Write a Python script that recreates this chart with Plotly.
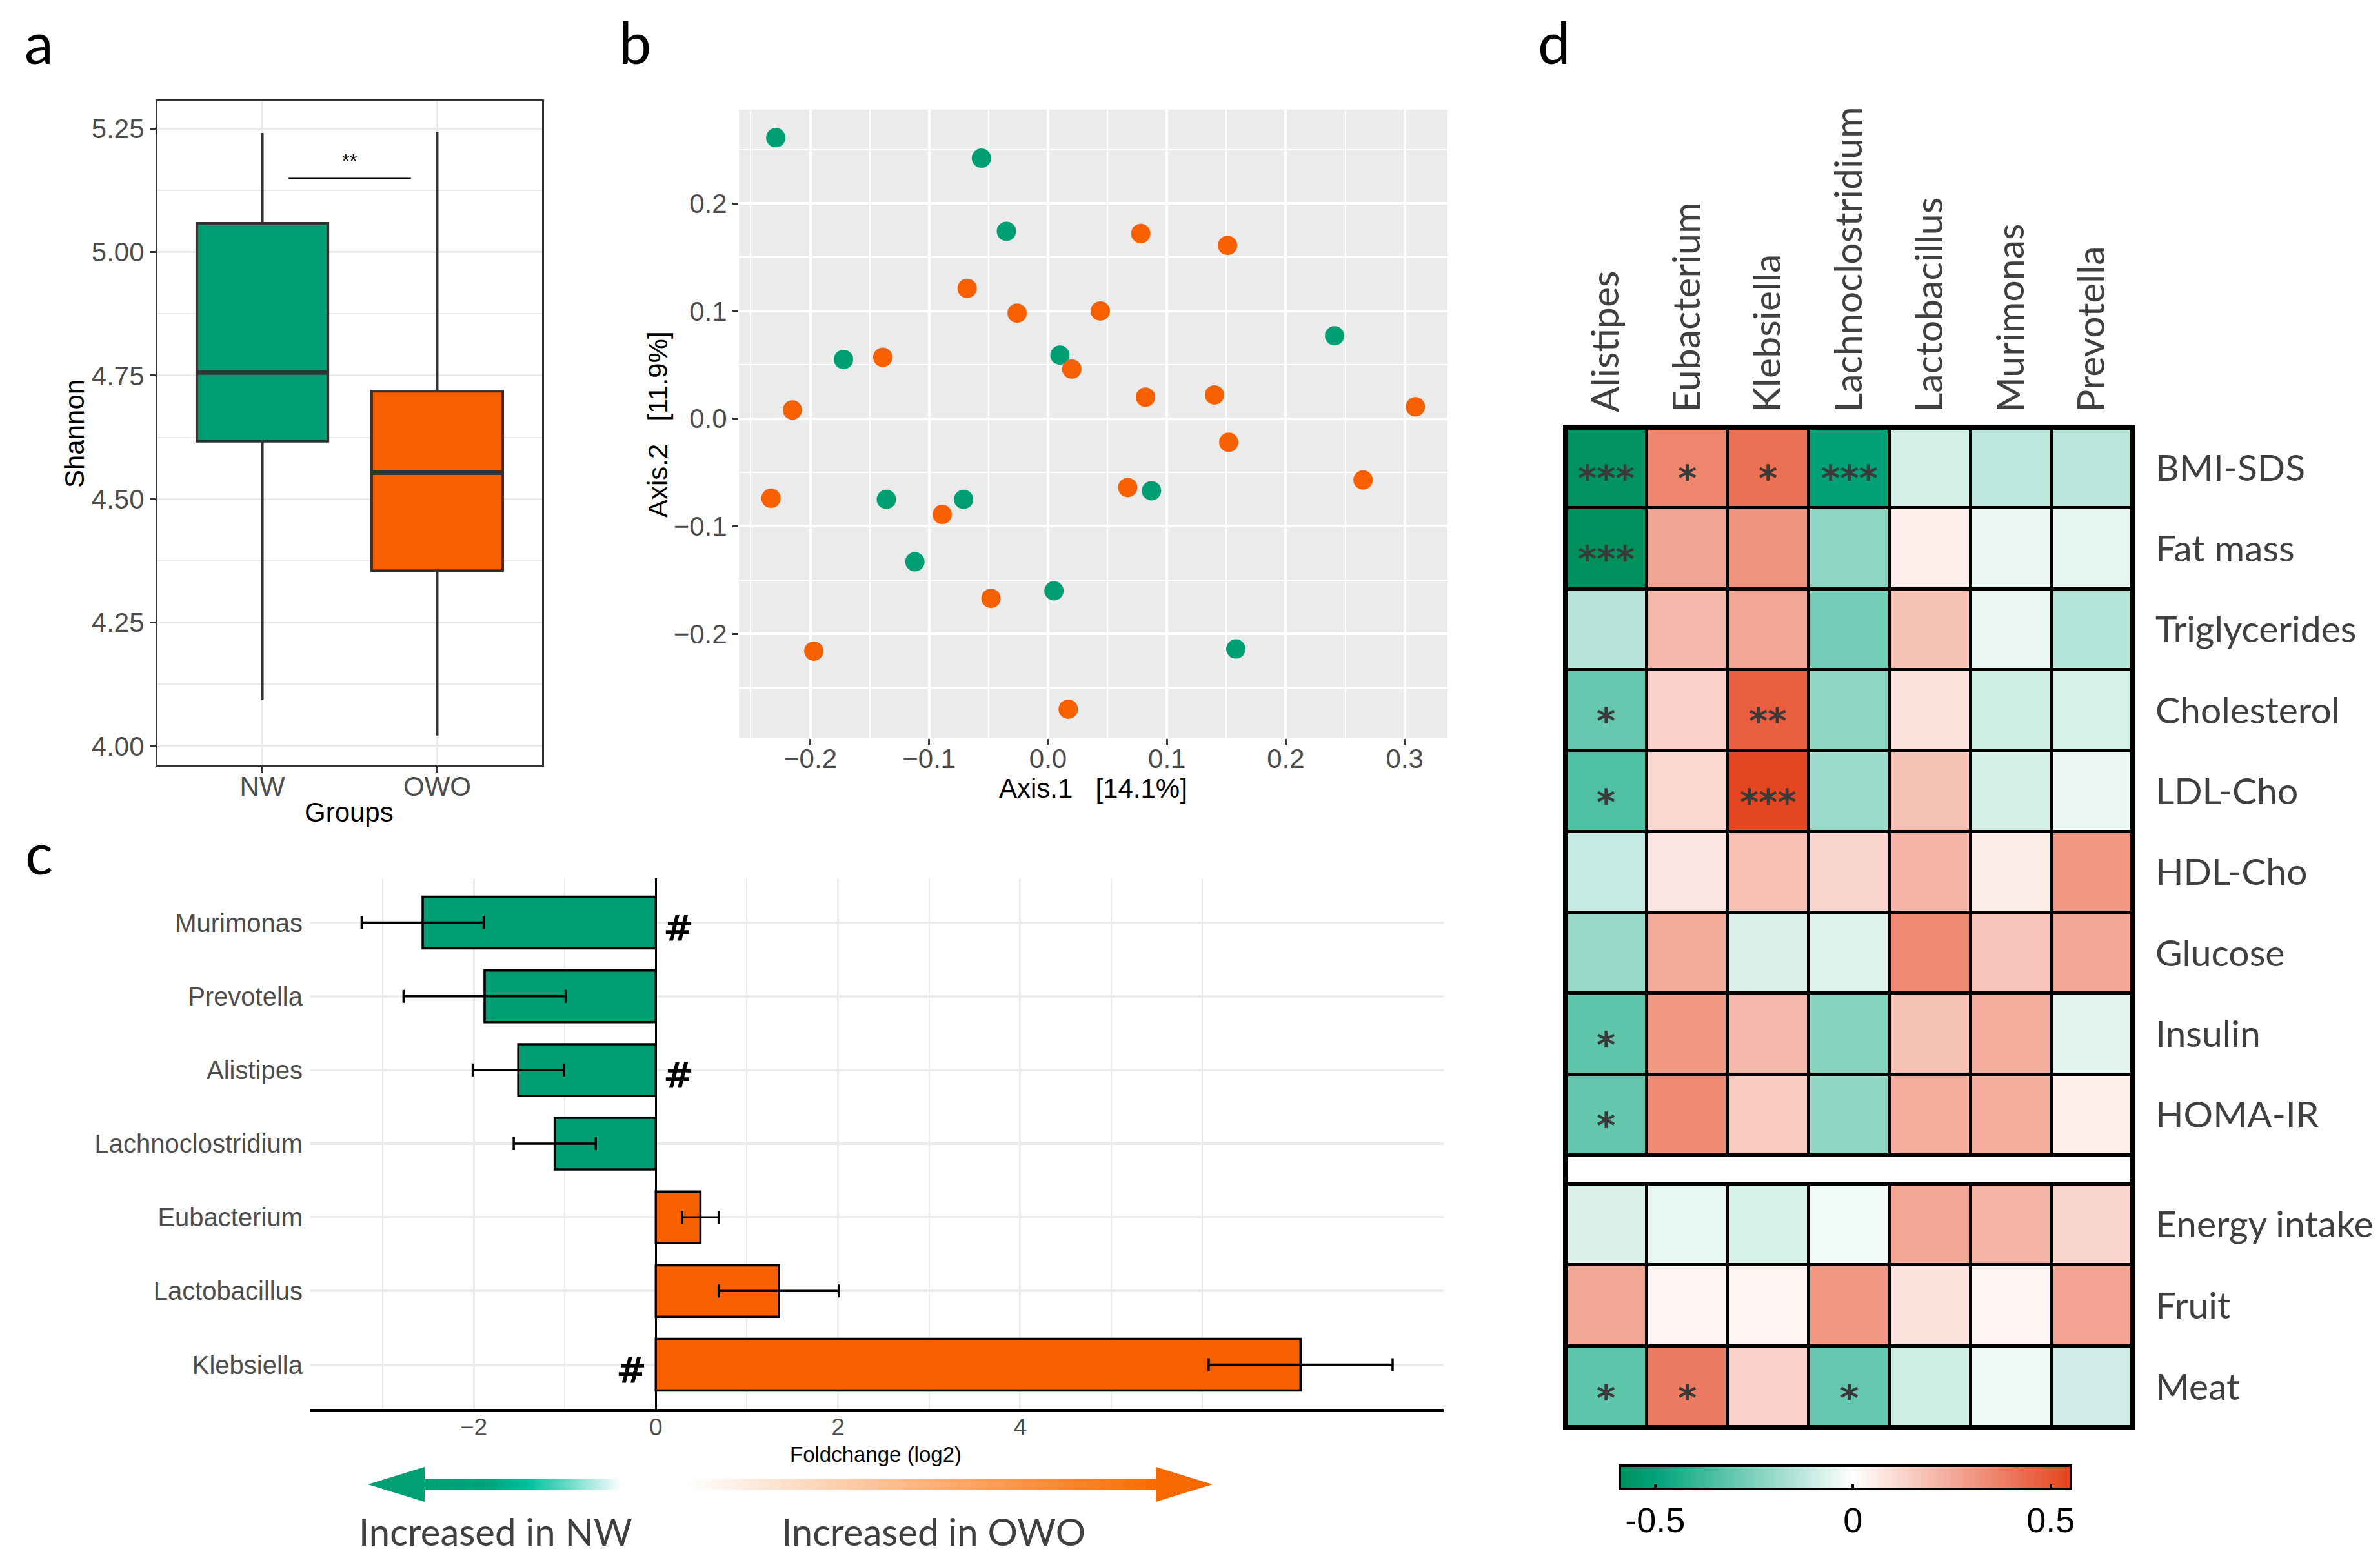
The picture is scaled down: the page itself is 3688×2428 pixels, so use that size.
import numpy as np
import plotly.graph_objects as go

W, H = 3688, 2428


def fx(p):
    return p / W


def fy(p):
    return 1 - p / H


GREEN = '#009E73'
ORANGE = '#F76000'
GREY_TXT = '#4d4d4d'
SANS = 'Liberation Sans'
CAL = 'Lato'

# ---- panel a : Shannon diversity (box stats) ----
groups = ['NW', 'OWO']
shannon_low = [4.094, 4.021]
shannon_q1 = [4.617, 4.355]
shannon_med = [4.756, 4.553]
shannon_q3 = [5.058, 4.718]
shannon_high = [5.241, 5.243]

# ---- panel b : PCoA ----
nw_axis1 = [-0.229, -0.056, -0.035, -0.172, 0.010, 0.241, -0.136, -0.071, 0.087, -0.112, 0.005, 0.158]
nw_axis2 = [0.261, 0.242, 0.174, 0.055, 0.059, 0.077, -0.075, -0.075, -0.067, -0.133, -0.160, -0.214]
owo_axis1 = [0.078, 0.151, -0.068, -0.026, 0.044, -0.139, 0.020, -0.215, 0.082, 0.140, 0.309,
             0.152, -0.233, -0.089, 0.067, 0.265, -0.048, -0.197, 0.017]
owo_axis2 = [0.172, 0.161, 0.121, 0.098, 0.100, 0.057, 0.046, 0.008, 0.020, 0.022, 0.011,
             -0.022, -0.074, -0.089, -0.064, -0.057, -0.167, -0.216, -0.270]

# ---- panel c : fold change ----
taxa = ['Murimonas', 'Prevotella', 'Alistipes', 'Lachnoclostridium', 'Eubacterium', 'Lactobacillus', 'Klebsiella']
log2fc = [-2.56, -1.88, -1.51, -1.11, 0.49, 1.35, 7.08]
log2fc_err = [0.67, 0.89, 0.50, 0.45, 0.20, 0.66, 1.01]
hash_taxa = ['Murimonas', 'Alistipes', 'Klebsiella']

# ---- panel d : correlation heatmap ----
genera = ['Alistipes', 'Eubacterium', 'Klebsiella', 'Lachnoclostridium', 'Lactobacillus', 'Murimonas', 'Prevotella']
clin_vars = ['BMI-SDS', 'Fat mass', 'Triglycerides', 'Cholesterol', 'LDL-Cho', 'HDL-Cho', 'Glucose', 'Insulin', 'HOMA-IR']
diet_vars = ['Energy intake', 'Fruit', 'Meat']
corr_clin = [
    [-0.58, 0.354, 0.418, -0.51, -0.082, -0.129, -0.137],
    [-0.60, 0.266, 0.316, -0.222, 0.050, -0.041, -0.047],
    [-0.139, 0.205, 0.257, -0.273, 0.181, -0.039, -0.149],
    [-0.300, 0.129, 0.471, -0.222, 0.085, -0.098, -0.080],
    [-0.345, 0.114, 0.541, -0.196, 0.181, -0.084, -0.039],
    [-0.114, 0.076, 0.184, 0.123, 0.214, 0.056, 0.304],
    [-0.206, 0.249, -0.071, -0.065, 0.339, 0.170, 0.254],
    [-0.314, 0.301, 0.205, -0.241, 0.181, 0.240, -0.053],
    [-0.306, 0.339, 0.152, -0.220, 0.238, 0.243, 0.044],
]
corr_diet = [
    [-0.071, -0.045, -0.076, -0.024, 0.254, 0.220, 0.123],
    [0.257, 0.026, 0.029, 0.304, 0.082, 0.026, 0.270],
    [-0.314, 0.386, 0.129, -0.302, -0.094, -0.033, -0.092],
]
stars_clin = [
    ['***', '*', '*', '***', '', '', ''],
    ['***', '', '', '', '', '', ''],
    ['', '', '', '', '', '', ''],
    ['*', '', '**', '', '', '', ''],
    ['*', '', '***', '', '', '', ''],
    ['', '', '', '', '', '', ''],
    ['', '', '', '', '', '', ''],
    ['*', '', '', '', '', '', ''],
    ['*', '', '', '', '', '', ''],
]
stars_diet = [
    ['', '', '', '', '', '', ''],
    ['', '', '', '', '', '', ''],
    ['*', '*', '', '*', '', '', ''],
]

ZMIN, ZMAX = -0.59, 0.55


def cpos(v):
    return (v - ZMIN) / (ZMAX - ZMIN)


cscale = [[0, '#00905e'], [cpos(-0.5), '#00a37a'], [cpos(0), '#ffffff'], [1, '#e5431e']]

fig = go.Figure()

# panel a
for g, lo, q1, md, q3, hi, col in zip(groups, shannon_low, shannon_q1, shannon_med, shannon_q3, shannon_high,
                                      [GREEN, ORANGE]):
    fig.add_trace(go.Box(x=[g], lowerfence=[lo], q1=[q1], median=[md], q3=[q3], upperfence=[hi],
                         fillcolor=col, line=dict(color='#333333', width=4), whiskerwidth=0,
                         width=0.75, xaxis='x', yaxis='y', hoverinfo='skip'))

# panel b
fig.add_trace(go.Scatter(x=nw_axis1, y=nw_axis2, mode='markers', marker=dict(color=GREEN, size=30),
                         xaxis='x2', yaxis='y2'))
fig.add_trace(go.Scatter(x=owo_axis1, y=owo_axis2, mode='markers', marker=dict(color=ORANGE, size=30),
                         xaxis='x2', yaxis='y2'))

# panel c
fig.add_trace(go.Bar(x=log2fc, y=taxa, orientation='h', width=0.7,
                     marker=dict(color=[GREEN if v < 0 else ORANGE for v in log2fc],
                                 line=dict(color='black', width=3.5)),
                     error_x=dict(type='data', array=log2fc_err, color='black', thickness=3.5, width=10),
                     xaxis='x3', yaxis='y3'))

# panel d
fig.add_trace(go.Heatmap(z=corr_clin, x=genera, y=clin_vars, colorscale=cscale, zmin=ZMIN, zmax=ZMAX,
                         xgap=5, ygap=5, xaxis='x4', yaxis='y4', hoverinfo='skip',
                         colorbar=dict(orientation='h', x=fx(2851), xanchor='center', y=fy(2263), yanchor='top',
                                       len=699, lenmode='pixels', thickness=36, thicknessmode='pixels',
                                       outlinewidth=4, outlinecolor='black', xpad=0, ypad=0,
                                       tickvals=[-0.5, 0, 0.5], ticktext=['-0.5', '0', '0.5'],
                                       ticks='inside', ticklen=9, tickwidth=4, tickcolor='black',
                                       tickfont=dict(family=SANS, size=54, color='black'))))
fig.add_trace(go.Heatmap(z=corr_diet, x=genera, y=diet_vars, colorscale=cscale, zmin=ZMIN, zmax=ZMAX,
                         xgap=5, ygap=5, xaxis='x5', yaxis='y5', showscale=False, hoverinfo='skip'))

annotations = []
for rows, stars, yref in [(clin_vars, stars_clin, 'y4'), (diet_vars, stars_diet, 'y5')]:
    xref = 'x4' if yref == 'y4' else 'x5'
    for r, row in enumerate(stars):
        for c, s in enumerate(row):
            if s:
                annotations.append(dict(x=genera[c], y=rows[r], xref=xref, yref=yref, text=s, showarrow=False,
                                        xanchor='center', yanchor='middle', yshift=-16,
                                        font=dict(family='DejaVu Sans', size=56, color='#3a3a3a',
                                                  weight='bold')))

# '#' marks in panel c
for t in hash_taxa:
    v = log2fc[taxa.index(t)]
    annotations.append(dict(x=0.25 if v < 0 else -0.27, y=t, xref='x3', yref='y3', text='#', showarrow=False,
                            xanchor='center', yanchor='middle', yshift=-8,
                            font=dict(family='DejaVu Sans', size=56, color='black', weight='bold')))

# significance in panel a
annotations.append(dict(x=0.5, y=5.185, xref='x', yref='y', text='**', showarrow=False,
                        xanchor='center', yanchor='middle', font=dict(family=SANS, size=30, color='black')))


def paper_text(x, y, text, font, angle=0, yanchor='middle'):
    return dict(x=fx(x), y=fy(y), xref='paper', yref='paper', text=text, showarrow=False, textangle=angle,
                xanchor='center', yanchor=yanchor, font=font)


ttl = dict(family=SANS, size=42, color='black')
annotations += [
    paper_text(533, 1250, 'Groups', ttl),
    paper_text(107, 664, 'Shannon', ttl, -90),
    paper_text(1686, 1213, 'Axis.1\u00a0\u00a0\u00a0[14.1%]', ttl),
    paper_text(1012, 650, 'Axis.2\u00a0\u00a0\u00a0[11.9%]', ttl, -90),
    paper_text(1349, 2245, 'Foldchange (log2)', dict(family=SANS, size=33, color='black')),
    paper_text(760, 2364, 'Increased in NW', dict(family=CAL, size=58, color='#404040')),
    paper_text(1438, 2364, 'Increased in OWO', dict(family=CAL, size=58, color='#404040')),
]
for lab, x, y in [('a', 52, 0), ('b', 976, 0), ('c', 52, 1256), ('d', 2400, 0)]:
    annotations.append(paper_text(x, y, lab, dict(family=CAL, size=90, color='black'), yanchor='top'))

shapes = [
    dict(type='rect', xref='x2 domain', yref='y2 domain', x0=0, x1=1, y0=0, y1=1, fillcolor='#ebebeb',
         line=dict(width=0), layer='below'),
    dict(type='line', xref='x', yref='y', x0=0.15, x1=0.85, y0=5.149, y1=5.149, line=dict(color='black', width=2)),
]
# thicker median bars like ggplot
for i, md in enumerate(shannon_med):
    shapes.append(dict(type='line', xref='x', yref='y', x0=i - 0.37, x1=i + 0.37, y0=md, y1=md,
                       line=dict(color='#333333', width=7)))

for xr, yr in [('x4', 'y4'), ('x5', 'y5')]:
    shapes.append(dict(type='rect', xref=xr + ' domain', yref=yr + ' domain', x0=0, x1=1, y0=0, y1=1,
                       fillcolor='black', line=dict(width=0), layer='below'))
    shapes.append(dict(type='rect', xref=xr + ' domain', yref=yr + ' domain', x0=0, x1=1, y0=0, y1=1,
                       line=dict(color='black', width=6)))
shapes.append(dict(type='rect', xref='paper', yref='paper', x0=fx(2418), x1=fx(3297), y0=fy(2204), y1=fy(654),
                   line=dict(color='black', width=8)))


# gradient arrows under panel c
def hex2rgb(h):
    return np.array([int(h[i:i + 2], 16) for i in (1, 3, 5)], dtype=float)


def ramp(stops, t):
    for (t0, c0), (t1, c1) in zip(stops[:-1], stops[1:]):
        if t0 <= t <= t1:
            f = 0 if t1 == t0 else (t - t0) / (t1 - t0)
            c = hex2rgb(c0) * (1 - f) + hex2rgb(c1) * f
            return 'rgb(%d,%d,%d)' % tuple(c)
    return stops[-1][1]


ay, shaft, head = 2292, 17, 54
segs = 80
for x0, x1, stops in [(648, 956, [(0, '#00a074'), (0.33, '#00a37b'), (0.53, '#00c0a0'), (1, '#ffffff')]),
                      (1058, 1786, [(0, '#ffffff'), (1, '#f76b00')])]:
    edges = np.linspace(x0, x1, segs + 1)
    for i in range(segs):
        col = ramp(stops, (i + 0.5) / segs)
        shapes.append(dict(type='rect', xref='paper', yref='paper', x0=fx(edges[i]), x1=fx(edges[i + 1] + 0.6),
                           y0=fy(ay + shaft / 2), y1=fy(ay - shaft / 2), fillcolor=col, line=dict(width=0)))
shapes.append(dict(type='path', xref='paper', yref='paper', fillcolor='#00a074', line=dict(width=0),
                   path='M %f %f L %f %f L %f %f Z' % (fx(562), fy(ay), fx(650), fy(ay - head / 2), fx(650),
                                                       fy(ay + head / 2))))
shapes.append(dict(type='path', xref='paper', yref='paper', fillcolor='#f86800', line=dict(width=0),
                   path='M %f %f L %f %f L %f %f Z' % (fx(1871), fy(ay), fx(1783), fy(ay - head / 2), fx(1783),
                                                       fy(ay + head / 2))))

tickf = dict(family=SANS, size=42, color=GREY_TXT)
fig.update_layout(
    width=W, height=H, margin=dict(l=0, r=0, t=0, b=0), paper_bgcolor='white', plot_bgcolor='white',
    showlegend=False, annotations=annotations, shapes=shapes,
    xaxis=dict(domain=[fx(236), fx(832)], anchor='y', type='category', categoryorder='array', categoryarray=groups,
               range=[-0.6, 1.6], showgrid=True, gridcolor='#ebebeb', gridwidth=3, showline=True, mirror=True,
               linecolor='#333333', linewidth=3, ticks='outside', ticklen=9, tickwidth=3, tickcolor='#333333',
               tickfont=tickf, zeroline=False, ticklabelstandoff=-14),
    yaxis=dict(domain=[fy(1177), fy(149)], anchor='x', range=[3.962, 5.305], tick0=4, dtick=0.25,
               tickformat='.2f', showgrid=True, gridcolor='#ebebeb', gridwidth=3,
               minor=dict(dtick=0.125, tick0=4, showgrid=True, gridcolor='#ebebeb', gridwidth=1.5),
               showline=True, mirror=True, linecolor='#333333', linewidth=3, ticks='outside', ticklen=9,
               tickwidth=3, tickcolor='#333333', tickfont=tickf, zeroline=False),
    xaxis2=dict(domain=[fx(1137), fx(2235)], anchor='y2', range=[-0.26, 0.336], tick0=0, dtick=0.1,
                tickformat='.1f', showgrid=True, gridcolor='white', gridwidth=3.5,
                minor=dict(dtick=0.05, tick0=0, showgrid=True, gridcolor='white', gridwidth=1.8),
                ticks='outside', ticklen=9, tickwidth=3, tickcolor='#333333', tickfont=tickf, zeroline=False,
                ticklabelstandoff=-14),
    yaxis2=dict(domain=[fy(1136), fy(162)], anchor='x2', range=[-0.297, 0.287], tick0=0, dtick=0.1,
                tickformat='.1f', showgrid=True, gridcolor='white', gridwidth=3.5,
                minor=dict(dtick=0.05, tick0=0, showgrid=True, gridcolor='white', gridwidth=1.8),
                ticks='outside', ticklen=9, tickwidth=3, tickcolor='#333333', tickfont=tickf, zeroline=False),
    xaxis3=dict(domain=[fx(472), fx(2229)], anchor='y3', range=[-3.8, 8.65], tickvals=[-2, 0, 2, 4],
                showgrid=True, gridcolor='#ebebeb', gridwidth=3,
                minor=dict(tickvals=[-3, -1, 1, 3, 5, 6], showgrid=True, gridcolor='#ebebeb', gridwidth=1.5),
                showline=True, linecolor='black', linewidth=5, zeroline=True, zerolinecolor='black',
                zerolinewidth=2.5, ticks='', tickfont=dict(family=SANS, size=37, color=GREY_TXT),
                ticklabelstandoff=-8),
    yaxis3=dict(domain=[fy(2175), fy(1353)], anchor='x3', type='category', categoryorder='array',
                categoryarray=taxa, range=[6.6, -0.6], showgrid=True, gridcolor='#ebebeb', gridwidth=3.5,
                ticks='', ticklabelstandoff=10, tickfont=dict(family=SANS, size=40, color=GREY_TXT),
                zeroline=False),
    xaxis4=dict(domain=[fx(2418), fx(3297)], anchor='y4', side='top', tickangle=-90, ticks='',
                showgrid=False, zeroline=False, ticklabelstandoff=22,
                tickfont=dict(family=CAL, size=59, color='#404040')),
    yaxis4=dict(domain=[fy(1782), fy(654)], anchor='x4', side='right', autorange='reversed', ticks='',
                showgrid=False, zeroline=False, ticklabelstandoff=34,
                tickfont=dict(family=CAL, size=57, color='#404040')),
    xaxis5=dict(domain=[fx(2418), fx(3297)], anchor='y5', showticklabels=False, ticks='', showgrid=False,
                zeroline=False),
    yaxis5=dict(domain=[fy(2204), fy(1826)], anchor='x5', side='right', autorange='reversed', ticks='',
                showgrid=False, zeroline=False, ticklabelstandoff=34,
                tickfont=dict(family=CAL, size=57, color='#404040')),
)

fig.write_html('out.html')
